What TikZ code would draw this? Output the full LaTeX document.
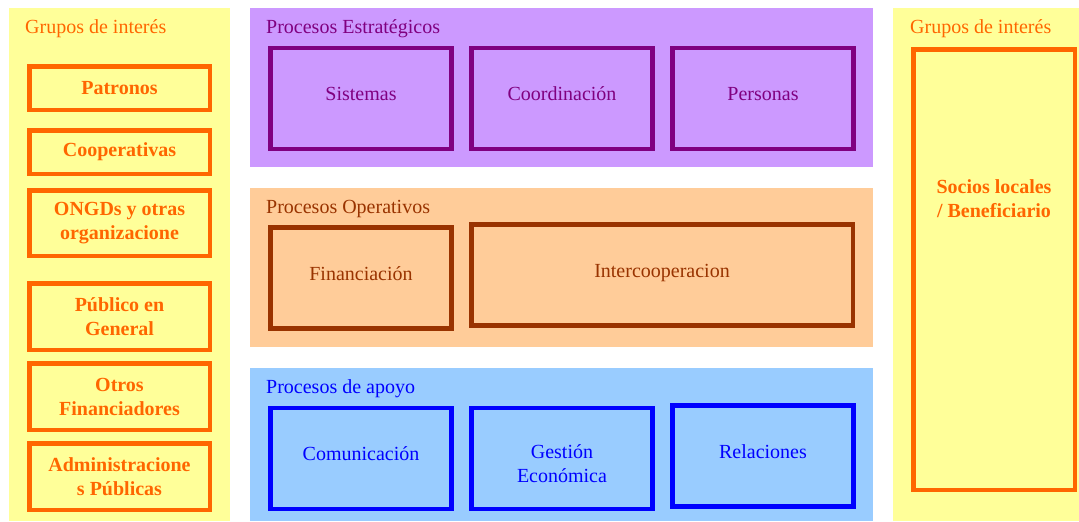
\documentclass[tikz,border=0pt]{standalone}
\usepackage{fontspec}
\setmainfont{Liberation Serif}
\usetikzlibrary{positioning}

\definecolor{panelyellow}{HTML}{FFFF99}
\definecolor{panelpurple}{HTML}{CC99FF}
\definecolor{panelorange}{HTML}{FFCC99}
\definecolor{panelblue}{HTML}{99CCFF}
\definecolor{grporange}{HTML}{FF6600}
\definecolor{estpurple}{HTML}{800080}
\definecolor{opbrown}{HTML}{993300}
\definecolor{apoyoblue}{HTML}{0000FF}

\newcommand{\diagfont}{\fontsize{20}{24}\selectfont}

\tikzset{
	panel/.style={rectangle, inner sep=0pt, anchor=north west},
	% titles in the upper left corner of each panel
	ptitle/.style={anchor=base west, inner sep=0pt, font=\diagfont},
	grupo/.style={draw=grporange, rectangle, line width=4.5pt, inner sep=0pt, minimum width=180.5pt, text=grporange, font=\diagfont\bfseries, align=center},
	proc/.style={rectangle, line width=4.5pt, inner sep=0pt, minimum width=181pt, minimum height=101pt, align=center, font=\diagfont, text height=12pt, text depth=8pt},
	estbox/.style={proc, draw=estpurple, text=estpurple},
	opbox/.style={proc, draw=opbrown, text=opbrown},
	apbox/.style={proc, draw=apoyoblue, text=apoyoblue},
}

\begin{document}
\begin{tikzpicture}[x=1pt, y=-1pt]
	\useasboundingbox (0,0) rectangle (1079,522);

	% panels
	\node (gleft) [panel, fill=panelyellow, minimum width=221pt, minimum height=513pt] at (9,8) {};
	\node (pest) [panel, fill=panelpurple, minimum width=623pt, minimum height=159pt] at (250,8) {};
	\node (pop) [panel, fill=panelorange, minimum width=623pt, minimum height=159pt] at (250,188) {};
	\node (pap) [panel, fill=panelblue, minimum width=623pt, minimum height=153pt] at (250,368) {};
	\node (gright) [panel, fill=panelyellow, minimum width=186pt, minimum height=513pt] at (893,8) {};

	\node (tgleft) [ptitle, text=grporange] at (25,34) {Grupos de interés};
	\node (test) [ptitle, text=estpurple] at (266,33) {Procesos Estratégicos};
	\node (top) [ptitle, text=opbrown] at (266,213) {Procesos Operativos};
	\node (tap) [ptitle, text=apoyoblue] at (266,393) {Procesos de apoyo};
	\node (tgright) [ptitle, text=grporange] at (910,34) {Grupos de interés};

	% grupos de interes (izquierda)
	\node (patronos) [grupo, minimum height=43.5pt] at (119.5,88) {Patronos};
	\node (coop) [grupo, minimum height=43.5pt] at (119.5,152) {Cooperativas};
	\node (ongd) [grupo, minimum height=65.5pt] at (119.5,223) {ONGDs y otras\\organizacione};
	\node (publico) [grupo, minimum height=66.5pt] at (119.5,316.5) {Público en\\General};
	\node (otros) [grupo, minimum height=66.5pt] at (119.5,396.5) {Otros\\Financiadores};
	\node (admin) [grupo, minimum height=66.5pt] at (119.5,476.5) {Administracione\\s Públicas};

	% procesos estrategicos
	\node (sistemas) [estbox] at (361,98.5) {Sistemas};
	\node (coord) [estbox, right=15.5pt of sistemas] {Coordinación};
	\node (personas) [estbox, right=15.5pt of coord] {Personas};

	% procesos operativos
	\node (financ) [opbox] at (361,278) {Financiación};
	\node (interco) [opbox, minimum width=381.5pt] at (662,275) {Intercooperacion};

	% procesos de apoyo
	\node (comunic) [apbox] at (361,458.5) {Comunicación};
	\node (gestion) [apbox, right=15.5pt of comunic, text height=56pt, text depth=8pt] {Gestión\\Económica};
	\node (relac) [apbox] at (763,456) {Relaciones};

	% grupos de interes (derecha)
	\node (socios) [grupo, minimum width=161.5pt, minimum height=440.5pt] at (994,269.5) {};
	\node (socioslbl) [below=132pt of socios.north, inner sep=0pt, text=grporange, font=\diagfont\bfseries, align=center] {Socios locales\\/ Beneficiario};
\end{tikzpicture}
\end{document}
